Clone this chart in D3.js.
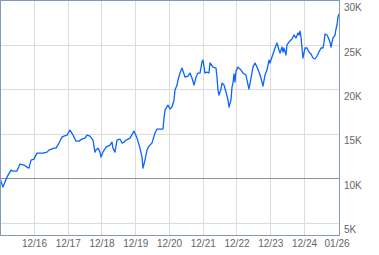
<!DOCTYPE html>
<html><head><meta charset="utf-8">
<script src="https://cdn.jsdelivr.net/npm/d3@7"></script>
<style>
html,body{margin:0;padding:0;background:#fff;}
svg{display:block;}
.axis text{font-family:"Liberation Sans",Arial,sans-serif;font-size:10px;fill:#666;}
</style>
</head><body>
<svg id="c" width="379" height="255"></svg>
<script>
// decimal-year dates and index values
const dates = [2015.993,2016.081,2016.200,2016.319,2016.378,2016.496,2016.585,2016.704,2016.793,2016.852,2016.911,2017.000,2017.089,2017.267,2017.385,2017.444,2017.593,2017.652,2017.741,2017.830,2017.889,2017.978,2018.067,2018.156,2018.244,2018.333,2018.422,2018.511,2018.570,2018.659,2018.748,2018.807,2018.837,2018.896,2018.956,2018.985,2019.044,2019.133,2019.252,2019.311,2019.341,2019.400,2019.459,2019.548,2019.607,2019.667,2019.726,2019.844,2019.963,2020.052,2020.141,2020.200,2020.230,2020.289,2020.348,2020.407,2020.496,2020.585,2020.644,2020.822,2020.852,2020.881,2020.970,2021.030,2021.089,2021.148,2021.178,2021.237,2021.267,2021.326,2021.385,2021.474,2021.563,2021.622,2021.681,2021.741,2021.800,2021.859,2021.919,2021.978,2022.007,2022.067,2022.126,2022.185,2022.215,2022.304,2022.393,2022.422,2022.452,2022.481,2022.541,2022.570,2022.630,2022.689,2022.748,2022.778,2022.837,2022.867,2022.896,2022.926,2022.956,2022.985,2023.044,2023.133,2023.193,2023.281,2023.311,2023.370,2023.430,2023.489,2023.548,2023.607,2023.667,2023.726,2023.785,2023.844,2023.904,2023.963,2023.993,2024.052,2024.141,2024.200,2024.259,2024.289,2024.348,2024.378,2024.407,2024.467,2024.496,2024.556,2024.644,2024.704,2024.763,2024.822,2024.852,2024.881,2024.911,2024.941,2024.970,2025.000,2025.030,2025.089,2025.148,2025.207,2025.267,2025.326,2025.385,2025.444,2025.504,2025.563,2025.593,2025.622,2025.681,2025.711,2025.770,2025.800,2025.830,2025.859,2025.919,2025.948,2025.978,2026.007,2026.037];
const values = [10010,9000,10120,10910,10800,10800,11590,11480,11250,11140,12040,12150,12830,12830,12940,13170,13390,13390,13960,14630,14750,14860,15420,14860,14180,14180,14410,14520,14860,14750,14300,12940,13170,13390,12940,12380,12940,13510,13730,14070,13390,12940,14300,14410,13960,14070,14300,14520,15310,14520,13390,12380,11140,12040,13170,13620,13960,15090,15540,15540,16780,17680,18240,17790,18020,18810,19930,20500,21060,21850,22410,21400,21510,21850,21290,20500,21400,21850,21850,23090,23310,21850,21960,21850,22980,22520,22410,21400,19930,19370,20040,20720,20500,19710,18810,18020,18810,20270,20720,21740,20840,22070,22520,22190,21850,21620,21060,20040,21290,22520,22980,22520,21960,21290,20380,21620,22190,23310,22980,23650,24670,25230,24440,24100,24780,24220,24670,23880,25010,25340,25680,26130,25800,26360,26130,26580,25910,24670,23540,24100,24670,24670,24220,23990,23540,23430,23770,24220,24670,24670,25340,26250,26130,25910,25340,24780,25340,25800,26130,26810,27260,28160,28500];

const xTickValues = [2017,2018,2019,2020,2021,2022,2023,2024,2025];
const xTickLabels = ["12/16","12/17","12/18","12/19","12/20","12/21","12/22","12/23","12/24"];
const xLastTick = 2025.965;
const xLastLabel = "01/26";
const yTickValues = [5000,10000,15000,20000,25000,30000];
const yTickLabels = ["5K","10K","15K","20K","25K","30K"];
const baseValue = 10000;

const L = 0, R = 339, T = 0, B = 235;
const svg = d3.select("#c");
const x = d3.scaleLinear().domain([2015.993, 2026.037]).range([L, R]);
const y = d3.scaleLinear().domain([5000, 30000]).range([222.6, 0.7]);

const g = svg.append("g");
// vertical grid
g.selectAll("line.vg").data(xTickValues).join("line")
  .attr("x1", d => Math.round(x(d)) + 0.5).attr("x2", d => Math.round(x(d)) + 0.5)
  .attr("y1", T).attr("y2", B).attr("stroke", "#dcdcdc").attr("stroke-width", 1);
// horizontal grid
g.selectAll("line.hg").data(yTickValues.filter(v => v !== baseValue && v < 30000)).join("line")
  .attr("x1", L).attr("x2", R)
  .attr("y1", d => Math.round(y(d)) + 0.5).attr("y2", d => Math.round(y(d)) + 0.5)
  .attr("stroke", "#dcdcdc").attr("stroke-width", 1);
// base line
g.append("line").attr("x1", L).attr("x2", R)
  .attr("y1", Math.round(y(baseValue)) + 0.5).attr("y2", Math.round(y(baseValue)) + 0.5)
  .attr("stroke", "#909090").attr("stroke-width", 1);

// data line
const data = dates.map((d, i) => [d, values[i]]);
g.append("path").datum(data)
  .attr("fill", "none").attr("stroke", "#0a64ff").attr("stroke-width", 1.3)
  .attr("stroke-linejoin", "round")
  .attr("d", d3.line().x(d => x(d[0])).y(d => y(d[1])));

// border
g.append("rect").attr("x", L + 0.5).attr("y", T + 0.5).attr("width", R - L).attr("height", B - T)
  .attr("fill", "none").attr("stroke", "#8499b6").attr("stroke-width", 1);

// axes
const xa = svg.append("g").attr("class", "axis").attr("transform", `translate(0,${B})`)
  .call(d3.axisBottom(x).tickValues([...xTickValues, xLastTick]).tickSize(0).tickPadding(5)
    .tickFormat((d, i) => i < xTickLabels.length ? xTickLabels[i] : xLastLabel));
xa.select(".domain").remove();

const ya = svg.append("g").attr("class", "axis").attr("transform", `translate(${R},0)`)
  .call(d3.axisRight(y).tickValues(yTickValues).tickSize(0).tickPadding(5)
    .tickFormat((d, i) => yTickLabels[i]));
ya.select(".domain").remove();
ya.selectAll("text").attr("dy", null).attr("y", 10);
</script>
</body></html>
